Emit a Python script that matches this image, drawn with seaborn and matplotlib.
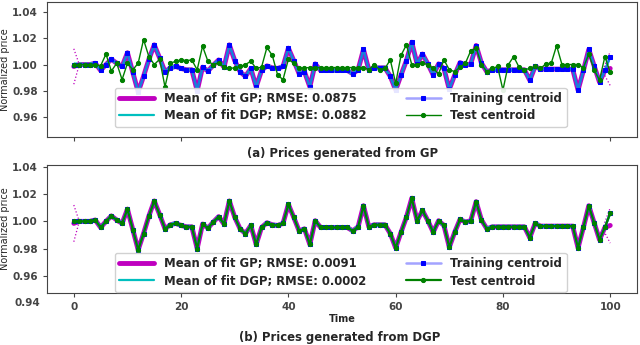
import matplotlib
matplotlib.use('Agg')
import matplotlib.pyplot as plt
import matplotlib.transforms as mtransforms
import seaborn as sns

time = list(range(101))

train_centroid = [
    1.000, 1.000, 1.000, 1.000, 1.001, 0.9955, 1.000, 1.004, 1.001, 0.9985,
    1.009, 0.994, 0.979, 0.991, 1.004, 1.015, 1.005, 0.9945, 0.9975, 0.9985,
    0.997, 0.996, 0.996, 0.980, 0.998, 0.995, 0.9995, 1.0035, 0.998, 1.015,
    1.003, 0.9945, 0.991, 0.997, 0.983, 0.9955, 0.999, 0.9975, 0.997, 0.9985,
    1.0125, 1.003, 0.993, 0.9945, 0.983, 1.0005, 0.9955, 0.9955, 0.9955, 0.9955,
    0.9955, 0.9955, 0.993, 0.996, 1.0115, 0.996, 0.9975, 0.9975, 0.9975, 0.991,
    0.9805, 0.992, 1.003, 1.017, 1.0005, 1.008, 1.0005, 0.992, 1.0005, 0.997,
    0.981, 0.992, 1.0015, 0.9995, 1.0005, 1.0145, 1.001, 0.9945, 0.996, 0.996,
    0.996, 0.996, 0.996, 0.996, 0.996, 0.988, 0.9985, 0.9965, 0.9965, 0.9965,
    0.9965, 0.9965, 0.9965, 0.9965, 0.9805, 0.9955, 1.0115, 0.999, 0.9865, 0.9955,
    1.006,
]

# test centroid, panel (a)
test_centroid_gp = [
    1.000, 1.000, 1.000, 1.000, 1.000, 0.999, 1.008, 0.995, 1.001, 0.9885,
    1.001, 0.996, 1.001, 1.019, 1.006, 1.000, 1.004, 0.983, 1.001, 1.0025,
    1.0035, 1.003, 1.0035, 0.996, 1.014, 1.0025, 1.000, 1.0013, 0.998, 0.997,
    0.9975, 0.9985, 1.000, 1.0025, 0.997, 0.998, 1.013, 1.007, 0.992, 0.9885,
    1.004, 1.001, 0.997, 0.9975, 0.9977, 0.9977, 0.9977, 0.9977, 0.9977, 0.9977,
    0.9977, 0.9977, 0.9977, 0.9977, 0.9977, 0.996, 1.000, 0.996, 0.997, 1.0036,
    0.9856, 1.007, 1.015, 1.000, 1.000, 1.001, 1.000, 0.997, 0.993, 1.0036,
    0.996, 0.9946, 0.998, 1.001, 1.0105, 1.0126, 1.000, 0.9946, 0.997, 0.9985,
    0.9805, 1.000, 1.006, 0.998, 0.996, 0.997, 0.9985, 0.997, 1.0005, 1.001,
    1.0144, 1.000, 1.000, 1.000, 1.000, 0.9977, 1.008, 0.996, 0.988, 1.006,
    0.994,
]

# test centroid, panel (b): lies on the training centroid
test_centroid_dgp = list(train_centroid)

# GP mean follows the training centroid except at the two ends
gp_mean = [0.9985] + train_centroid[1:100] + [0.997]
gp_std = [0.0135, 0.0003] + [0.0003] * 96 + [0.0003, 0.004, 0.013]
dgp_mean = list(train_centroid)
dgp_std = 0.0012

gp_rmse = ['0.0875', '0.0091']
dgp_rmse = ['0.0882', '0.0002']
captions = ['(a) Prices generated from GP', '(b) Prices generated from DGP']

sns.set_style('ticks')
plt.rcParams['font.family'] = ['DejaVu Sans']
plt.rcParams['axes.edgecolor'] = '#444444'
plt.rcParams['xtick.color'] = '#444444'
plt.rcParams['ytick.color'] = '#444444'

fig = plt.figure(figsize=(6.4, 3.45), dpi=100)
ax_a = fig.add_axes([0.0734, 0.603, 0.922, 0.391])
ax_b = fig.add_axes([0.0734, 0.151, 0.922, 0.371])


def draw_panel(ax, test, rmse_gp, rmse_dgp, test_lw):
    gp_lo = [m - s for m, s in zip(gp_mean, gp_std)]
    gp_hi = [m + s for m, s in zip(gp_mean, gp_std)]
    dgp_lo = [m - dgp_std for m in dgp_mean]
    dgp_hi = [m + dgp_std for m in dgp_mean]

    sns.lineplot(x=time, y=gp_mean, ax=ax, color='m', lw=3.5,
                 label='Mean of fit GP; RMSE: ' + rmse_gp, zorder=2)
    sns.lineplot(x=time, y=gp_lo, ax=ax, color='m', lw=0.9, ls=':', zorder=2)
    sns.lineplot(x=time, y=gp_hi, ax=ax, color='m', lw=0.9, ls=':', zorder=2)
    sns.lineplot(x=time, y=dgp_mean, ax=ax, color='c', lw=1.6,
                 label='Mean of fit DGP; RMSE: ' + rmse_dgp, zorder=3)
    sns.lineplot(x=time, y=dgp_lo, ax=ax, color='c', lw=0.7, ls='--', zorder=3)
    sns.lineplot(x=time, y=dgp_hi, ax=ax, color='c', lw=0.7, ls='--', zorder=3)
    sns.lineplot(x=time, y=train_centroid, ax=ax, color=(0.2, 0.2, 1.0, 0.45),
                 lw=1.8, marker='s', ms=2.6, mfc='b', mec='b',
                 label='Training centroid', zorder=4)
    sns.lineplot(x=time, y=test, ax=ax, color='g', lw=test_lw, marker='o',
                 ms=3, mfc='g', mec='g', label='Test centroid', zorder=5)

    lines = ax.get_lines()
    handles = [l for l in lines if not l.get_label().startswith('_')]
    ax.legend(handles=handles, labels=[h.get_label() for h in handles],
              ncol=2, loc='lower left', handlelength=3, columnspacing=3.4,
              labelspacing=0.35, borderpad=0.4, framealpha=0.9,
              prop={'weight': 'bold', 'size': 8.4})
    ax.set_xlim(-5, 105)
    ax.set_ylabel('Normalized price', fontsize=7)
    ax.yaxis.set_label_coords(-0.063, 0.5)
    ax.tick_params(length=3, width=0.8, labelsize=7.5)


draw_panel(ax_a, test_centroid_gp, gp_rmse[0], dgp_rmse[0], 1.0)
ax_a.set_ylim(0.9448, 1.0476)
ax_a.set_yticks([0.96, 0.98, 1.00, 1.02, 1.04])
ax_a.set_yticklabels(['0.96', '0.98', '1.00', '1.02', '1.04'], fontweight='bold')
ax_a.set_xticks([0, 20, 100])
ax_a.set_xticklabels([])
ax_a.set_xlabel('')
ax_a.get_legend().set_bbox_to_anchor((0.105, 0.03), transform=ax_a.transAxes)

draw_panel(ax_b, test_centroid_dgp, gp_rmse[1], dgp_rmse[1], 1.6)
ax_b.set_ylim(0.9474, 1.0415)
ax_b.set_yticks([0.96, 0.98, 1.00, 1.02, 1.04])
ax_b.set_yticklabels(['0.96', '0.98', '1.00', '1.02', '1.04'], fontweight='bold')
trans = mtransforms.blended_transform_factory(ax_b.transAxes, ax_b.transData)
ax_b.text(-0.012, 0.94, '0.94', transform=trans, ha='right', va='center',
          fontsize=7.5, fontweight='bold', color='#444444', clip_on=False)
ax_b.set_xticks([0, 20, 40, 60, 80, 100])
ax_b.set_xticklabels(['0', '20', '40', '60', '80', '100'], fontweight='bold')
ax_b.set_xlabel('Time', fontsize=7, fontweight='bold', labelpad=1.5)
ax_b.get_legend().set_bbox_to_anchor((0.105, -0.04), transform=ax_b.transAxes)

fig.text(0.535, 1 - 154 / 345, captions[0], ha='center', va='center',
         fontsize=8.4, fontweight='bold')
fig.text(0.53, 1 - 337 / 345, captions[1], ha='center', va='center',
         fontsize=8.4, fontweight='bold')

fig.savefig('out.png', dpi=100)
